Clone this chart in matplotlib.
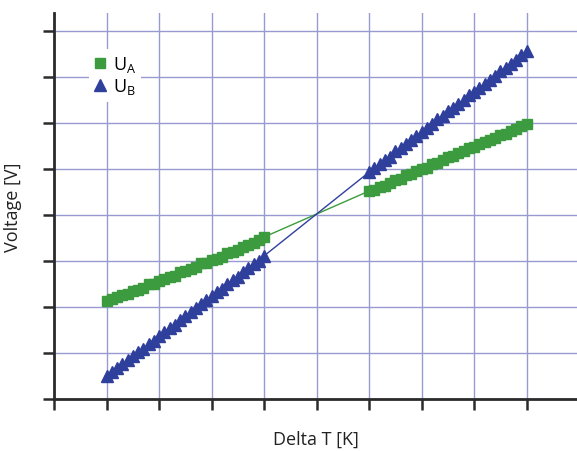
import matplotlib
matplotlib.use('Agg')
import matplotlib.pyplot as plt

# Delta T sample points (two measurement windows, no data near zero)
dt_neg = [-4.0, -3.9, -3.8, -3.7, -3.6, -3.5, -3.4, -3.3, -3.2, -3.1, -3.0,
          -2.9, -2.8, -2.7, -2.6, -2.5, -2.4, -2.3, -2.2, -2.1, -2.0,
          -1.9, -1.8, -1.7, -1.6, -1.5, -1.4, -1.3, -1.2, -1.1, -1.0]
dt_pos = [1.0, 1.1, 1.2, 1.3, 1.4, 1.5, 1.6, 1.7, 1.8, 1.9, 2.0,
          2.1, 2.2, 2.3, 2.4, 2.5, 2.6, 2.7, 2.8, 2.9, 3.0,
          3.1, 3.2, 3.3, 3.4, 3.5, 3.6, 3.7, 3.8, 3.9, 4.0]

ua_neg = [-1.87, -1.83, -1.79, -1.75, -1.72, -1.66, -1.63, -1.59, -1.51, -1.50, -1.44,
          -1.40, -1.35, -1.32, -1.25, -1.22, -1.18, -1.13, -1.05, -1.04, -0.98,
          -0.95, -0.91, -0.83, -0.80, -0.76, -0.70, -0.65, -0.60, -0.55, -0.48]
ua_pos = [0.52, 0.55, 0.61, 0.64, 0.70, 0.75, 0.79, 0.86, 0.88, 0.95, 1.01,
          1.03, 1.10, 1.14, 1.19, 1.25, 1.28, 1.34, 1.38, 1.45, 1.48,
          1.54, 1.59, 1.63, 1.68, 1.74, 1.77, 1.83, 1.87, 1.93, 1.98]

ub_neg = [-3.50, -3.42, -3.33, -3.25, -3.15, -3.07, -2.98, -2.92, -2.80, -2.73, -2.63,
          -2.55, -2.45, -2.39, -2.28, -2.20, -2.11, -2.03, -1.94, -1.85, -1.76,
          -1.68, -1.60, -1.50, -1.42, -1.34, -1.24, -1.16, -1.07, -0.99, -0.89]
ub_pos = [0.93, 1.02, 1.10, 1.20, 1.27, 1.38, 1.45, 1.55, 1.62, 1.72, 1.80,
          1.89, 1.97, 2.08, 2.15, 2.25, 2.33, 2.42, 2.50, 2.60, 2.67,
          2.77, 2.85, 2.94, 3.02, 3.12, 3.20, 3.29, 3.37, 3.47, 3.57]

x_ticks = [-5, -4, -3, -2, -1, 0, 1, 2, 3, 4]
y_ticks = [-4, -3, -2, -1, 0, 1, 2, 3, 4]

GREEN = '#3c9b3f'
BLUE = '#2f3f9c'
GRID = '#9a9ad2'
AXIS = '#2b2b2b'

plt.rcParams['font.family'] = ['Open Sans', 'DejaVu Sans']
plt.rcParams['mathtext.fontset'] = 'custom'
plt.rcParams['mathtext.rm'] = 'Open Sans'

fig = plt.figure(figsize=(5.77, 4.52), dpi=100)
ax = fig.add_axes([54 / 577, 52 / 452, 523 / 577, 386 / 452])

ax.plot(dt_neg + dt_pos, ua_neg + ua_pos, '-', color=GREEN, lw=1.0,
        marker='s', ms=7, mec=GREEN, label=r'$\mathregular{U_A}$', zorder=3)
ax.plot(dt_neg + dt_pos, ub_neg + ub_pos, '-', color=BLUE, lw=1.0,
        marker='^', ms=8.5, mec=BLUE, label=r'$\mathregular{U_B}$', zorder=3)

ax.set_xlim(-5, 4.96)
ax.set_ylim(-4, 4.39)
ax.set_xticks(x_ticks)
ax.set_yticks(y_ticks)
ax.set_xticklabels([])
ax.set_yticklabels([])
ax.grid(True, color=GRID, lw=1.0)
ax.set_axisbelow(True)

for side in ('top', 'right'):
    ax.spines[side].set_visible(False)
for side in ('left', 'bottom'):
    ax.spines[side].set_color(AXIS)
    ax.spines[side].set_linewidth(2)
ax.tick_params(direction='out', length=8, width=1.8, color=AXIS)

ax.set_xlabel('Delta T [K]', fontsize=13, color='#222222')
ax.set_ylabel('Voltage [V]', fontsize=13, color='#222222')
ax.xaxis.set_label_coords(0.5, -0.08)
ax.yaxis.set_label_coords(-0.062, 0.5)

leg = ax.legend(loc='upper left', bbox_to_anchor=(0.05, 0.93), fontsize=13,
                frameon=True, framealpha=1, edgecolor='none', handlelength=0.6,
                handletextpad=0.4, labelspacing=0.1, borderpad=0.3,
                fancybox=False)
for h in leg.legend_handles:
    h.set_linestyle('none')

fig.savefig('out.png', dpi=100)
